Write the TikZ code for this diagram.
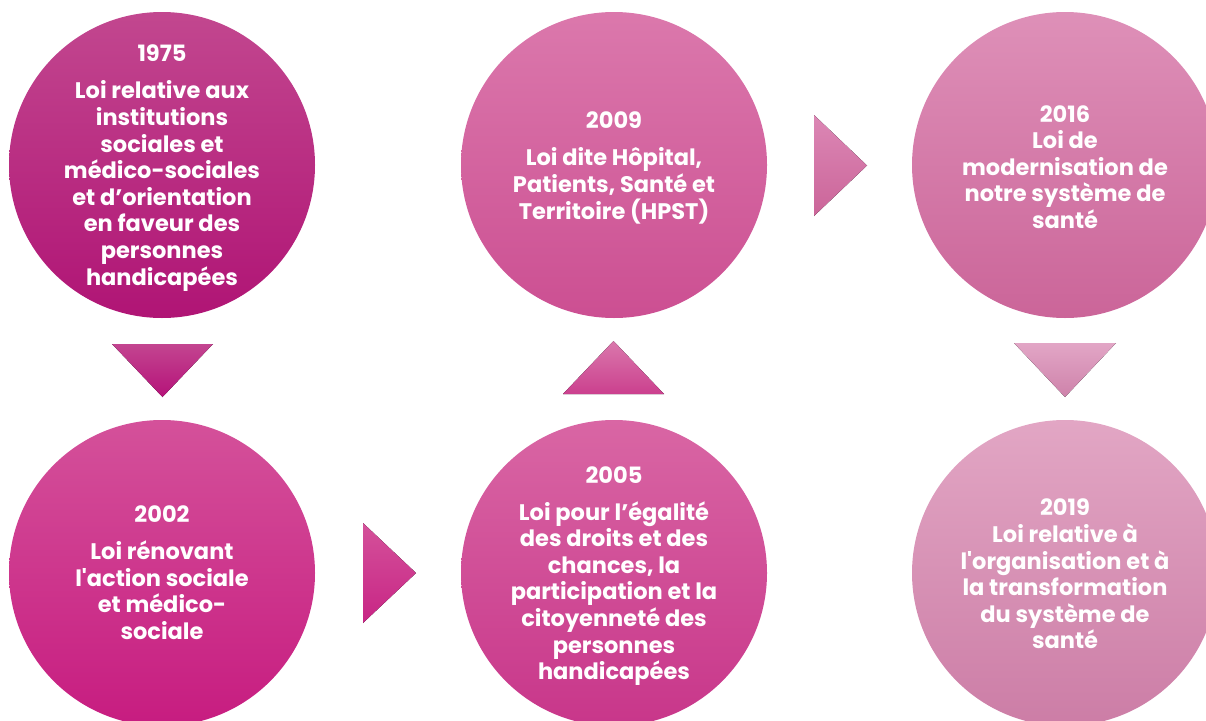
\documentclass[tikz,border=0pt]{standalone}
\usepackage{fontspec}
\setmainfont{Poppins}[Ligatures=TeXOff]
\definecolor{caT}{HTML}{C2478F}\definecolor{caB}{HTML}{B01475}
\definecolor{cbT}{HTML}{D4519A}\definecolor{cbB}{HTML}{C71C80}
\definecolor{ccT}{HTML}{DB78AC}\definecolor{ccB}{HTML}{CC4F92}
\definecolor{cdT}{HTML}{D966A4}\definecolor{cdB}{HTML}{C8368A}
\definecolor{ceT}{HTML}{DE90B8}\definecolor{ceB}{HTML}{CB6599}
\definecolor{cfT}{HTML}{E2A6C4}\definecolor{cfB}{HTML}{CC7DA6}
\definecolor{taT}{HTML}{C34590}\definecolor{taB}{HTML}{B51279}
\definecolor{tbT}{HTML}{D4519A}\definecolor{tbB}{HTML}{C82585}
\definecolor{tcT}{HTML}{DA78AC}\definecolor{tcB}{HTML}{CB408E}
\definecolor{tdT}{HTML}{DC87B5}\definecolor{tdB}{HTML}{CB6599}
\definecolor{teT}{HTML}{E2A6C6}\definecolor{teB}{HTML}{CE82AA}
\begin{document}
\begin{tikzpicture}[x=1pt,y=-1pt,
  disc/.style={circle,minimum size=306pt,inner sep=0pt,draw=none},
  lbl/.style={text=white,align=center,inner sep=0pt,
    font=\bfseries\fontsize{22.5}{26.6}\selectfont}]
\useasboundingbox (0,0) rectangle (1206,720);
\clip (0,0) rectangle (1206,720);
% circles
\node[disc,top color=caT,bottom color=caB] (c1) at (162,165) {};
\node[disc,top color=cbT,bottom color=cbB] (c2) at (162,573) {};
\node[disc,top color=ccT,bottom color=ccB] (c3) at (614,165) {};
\node[disc,top color=cdT,bottom color=cdB] (c4) at (614,573) {};
\node[disc,top color=ceT,bottom color=ceB] (c5) at (1065,165) {};
\node[disc,top color=cfT,bottom color=cfB] (c6) at (1065,573) {};
% triangles
\fill[top color=taT,bottom color=taB] (112,344) -- (213,344) -- (162.5,397) -- cycle;
\fill[top color=tbT,bottom color=tbB] (363,523) -- (416,573) -- (363,623) -- cycle;
\fill[top color=tcT,bottom color=tcB] (563,394) -- (664,394) -- (613.5,341) -- cycle;
\fill[top color=tdT,bottom color=tdB] (814,115) -- (867,165.5) -- (814,216) -- cycle;
\fill[top color=teT,bottom color=teB] (1014,343) -- (1116,343) -- (1065,397) -- cycle;
% texts
\node[lbl] (t1) at (162,168) {1975\\[10.4pt]Loi relative aux\\institutions\\sociales et\\médico-sociales\\et d’orientation\\en faveur des\\personnes\\handicapées};
\node[lbl] (t2) at (162,572.5) {2002\\[10.4pt]Loi rénovant\\l'action sociale\\et médico-\\sociale};
\node[lbl] (t3) at (614,168) {2009\\[10.4pt]Loi dite Hôpital,\\Patients, Santé et\\Territoire (HPST)};
\node[lbl] (t4) at (614,576) {2005\\[10.4pt]Loi pour l’égalité\\des droits et des\\chances, la\\participation et la\\citoyenneté des\\personnes\\handicapées};
\node[lbl] (t5) at (1065,167) {2016\\Loi de\\modernisation de\\notre système de\\santé};
\node[lbl] (t6) at (1065,574) {2019\\Loi relative à\\l'organisation et à\\la transformation\\du système de\\santé};
\end{tikzpicture}
\end{document}
